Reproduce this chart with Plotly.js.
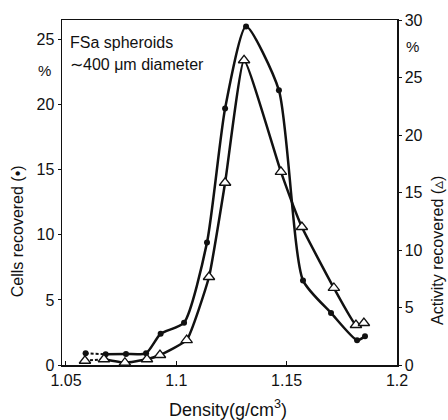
<!DOCTYPE html>
<html><head><meta charset="utf-8">
<script src="https://cdn.plot.ly/plotly-3.0.1.min.js"></script>
<style>html,body{margin:0;padding:0;background:#fff}#c{width:448px;height:420px}</style>
</head><body><div id="c"></div>
<script>
// Cells recovered (filled circles), left axis
const cellsDensity = [1.0589, 1.0680, 1.0772, 1.0863, 1.0929, 1.1035, 1.1139, 1.1221, 1.1316, 1.1465, 1.1574, 1.1701, 1.1819, 1.1855];
const cellsPct     = [0.9, 0.82, 0.85, 0.9, 2.4, 3.25, 9.4, 19.7, 26.0, 21.1, 6.5, 4.0, 1.9, 2.2];
// Activity recovered (open triangles), right axis
const actDensity = [1.0586, 1.0672, 1.0767, 1.0867, 1.0926, 1.1047, 1.1148, 1.1221, 1.1307, 1.1474, 1.1569, 1.1714, 1.1814, 1.1850];
const actPct     = [0.37, 0.5, 0.2, 0.5, 0.87, 2.17, 7.65, 15.85, 26.5, 16.8, 12.0, 6.7, 3.48, 3.65];
const xTicks = [1.05, 1.1, 1.15, 1.2];
const xTickText = ['1.05', '1.1', '1.15', '1.2'];
const leftTicks = [0, 5, 10, 15, 20, 25];
const rightTicks = [0, 5, 10, 15, 20, 25, 30];

const FONT = 'Liberation Sans Narrow, Liberation Sans, Arial, sans-serif';
const ink = '#111';

const traces = [
  {x: cellsDensity.slice(0, 2), y: cellsPct.slice(0, 2), mode: 'lines', yaxis: 'y',
   line: {color: ink, width: 2, dash: '3px,2px'}, hoverinfo: 'skip'},
  {x: actDensity.slice(0, 2), y: actPct.slice(0, 2), mode: 'lines', yaxis: 'y2',
   line: {color: ink, width: 2, dash: '3px,2px'}, hoverinfo: 'skip'},
  {x: cellsDensity.slice(1), y: cellsPct.slice(1), mode: 'lines', yaxis: 'y',
   line: {color: ink, width: 2.5, shape: 'spline', smoothing: 0.6}},
  {x: actDensity.slice(1), y: actPct.slice(1), mode: 'lines', yaxis: 'y2',
   line: {color: ink, width: 2.5, shape: 'spline', smoothing: 0.4}},
  {x: cellsDensity, y: cellsPct, mode: 'markers', yaxis: 'y',
   marker: {symbol: 'circle', size: 6, color: ink}},
  {x: actDensity, y: actPct, mode: 'markers', yaxis: 'y2',
   marker: {symbol: 'triangle-up', size: 10, color: '#fff', line: {color: ink, width: 1.3}}}
];

const layout = {
  width: 448, height: 420,
  margin: {l: 62, r: 51, t: 20, b: 55},
  paper_bgcolor: '#fff', plot_bgcolor: '#fff',
  showlegend: false,
  font: {family: FONT, size: 16, color: ink},
  xaxis: {range: [1.0482, 1.2], tickvals: xTicks, ticktext: xTickText,
    showgrid: false, zeroline: false, showline: true, linecolor: ink, linewidth: 1.5,
    mirror: true, ticks: 'inside', ticklen: 4, tickcolor: ink, tickfont: {size: 16}},
  yaxis: {range: [0, 26.5], tickvals: leftTicks, showgrid: false, zeroline: false,
    showline: true, linecolor: ink, linewidth: 1.5, ticks: 'outside', ticklen: 3,
    tickcolor: ink, tickfont: {size: 16}},
  yaxis2: {range: [0, 30], tickvals: rightTicks, overlaying: 'y', side: 'right',
    showgrid: false, zeroline: false, showline: true, linecolor: ink, linewidth: 1.5,
    ticks: 'outside', ticklen: 3, tickcolor: ink, tickfont: {size: 16}},
  annotations: [
    {xref: 'paper', yref: 'paper', x: 0.018, y: 0.936, xanchor: 'left', yanchor: 'middle',
     text: 'FSa spheroids', showarrow: false, font: {size: 16}},
    {xref: 'paper', yref: 'paper', x: 0.018, y: 0.870, xanchor: 'left', yanchor: 'middle',
     text: '∼400 μm diameter', showarrow: false, font: {size: 16}},
    {xref: 'paper', yref: 'paper', x: -0.051, y: 0.855, xanchor: 'center', yanchor: 'middle',
     text: '%', showarrow: false, font: {size: 15}},
    {xref: 'paper', yref: 'paper', x: 1.045, y: 0.922, xanchor: 'center', yanchor: 'middle',
     text: '%', showarrow: false, font: {size: 15}},
    {xref: 'paper', yref: 'paper', x: -0.134, y: 0.388, xanchor: 'center', yanchor: 'middle',
     text: 'Cells recovered (•)', textangle: -90, showarrow: false, font: {size: 16}},
    {xref: 'paper', yref: 'paper', x: 1.119, y: 0.333, xanchor: 'center', yanchor: 'middle',
     text: 'Activity recovered (▵)', textangle: -90, showarrow: false, font: {size: 16}},
    {xref: 'paper', yref: 'paper', x: 0.496, y: -0.125, xanchor: 'center', yanchor: 'middle',
     text: 'Density(g/cm<sup>3</sup>)', showarrow: false, font: {size: 18}}
  ]
};

Plotly.newPlot('c', traces, layout, {displayModeBar: false, staticPlot: true});
</script></body></html>
